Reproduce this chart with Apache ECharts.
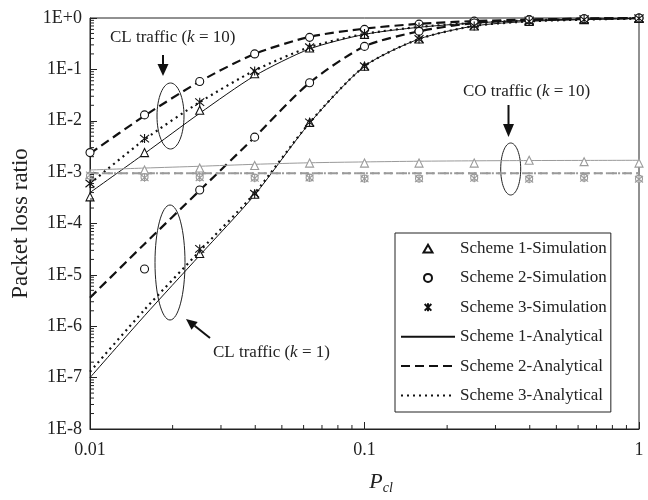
<!DOCTYPE html>
<html><head><meta charset="utf-8">
<script src="https://cdn.jsdelivr.net/npm/echarts@6/dist/echarts.min.js"></script>
<style>html,body{margin:0;padding:0;background:#fff}#c{width:648px;height:500px}</style>
</head><body><div id="c"></div>
<script>
// x values (P_cl)
const pcl = [0.01, 0.0158, 0.0251, 0.0398, 0.0631, 0.1, 0.158, 0.251, 0.398, 0.631, 1];
// CL traffic k = 10
const k10s1Sim = [3.3e-4, 2.4e-3, 1.6e-2, 8.2e-2, 0.26, 0.48, 0.66, 0.8, 0.9, 0.95, 0.98];
const k10s2Sim = [2.4e-3, 1.3e-2, 5.8e-2, 0.2, 0.42, 0.6, 0.76, 0.87, 0.93, 0.97, 1.0];
const k10s3Sim = [6e-4, 4.5e-3, 2.3e-2, 9.3e-2, 0.27, 0.5, 0.67, 0.8, 0.9, 0.95, 0.98];
const k10s1Ana = [4e-4, 2.3e-3, 1.4e-2, 7.5e-2, 0.25, 0.48, 0.66, 0.8, 0.9, 0.95, 0.98];
const k10s2Ana = [2.3e-3, 1.25e-2, 5.8e-2, 0.2, 0.43, 0.62, 0.77, 0.87, 0.93, 0.97, 1.0];
const k10s3Ana = [6e-4, 4.3e-3, 2.3e-2, 9.5e-2, 0.27, 0.49, 0.67, 0.8, 0.9, 0.95, 0.98];
// CL traffic k = 1
const k1s1Sim = [null, null, 2.6e-5, 3.7e-4, 9.3e-3, 0.115, 0.39, 0.7, 0.86, 0.93, 0.98];
const k1s2Sim = [null, 1.3e-5, 4.5e-4, 4.8e-3, 5.5e-2, 0.28, 0.55, 0.8, 0.92, 0.97, 1.0];
const k1s3Sim = [null, null, 3.2e-5, 3.8e-4, 9.3e-3, 0.115, 0.39, 0.7, 0.86, 0.93, 0.98];
const k1s1Ana = [1.0e-7, 1.6e-6, 2.4e-5, 3.6e-4, 9e-3, 0.115, 0.39, 0.7, 0.86, 0.93, 0.98];
const k1s2Ana = [3.6e-6, 4e-5, 4.4e-4, 4.8e-3, 5.5e-2, 0.28, 0.55, 0.8, 0.92, 0.97, 1.0];
const k1s3Ana = [1.3e-7, 2.1e-6, 2.9e-5, 3.9e-4, 9.2e-3, 0.115, 0.39, 0.7, 0.86, 0.93, 0.98];
// CO traffic k = 10
const cos1Sim = [9e-4, 1.1e-3, 1.2e-3, 1.35e-3, 1.5e-3, 1.5e-3, 1.5e-3, 1.5e-3, 1.7e-3, 1.6e-3, 1.5e-3];
const cos2Sim = [8.5e-4, 8e-4, 8e-4, 7.8e-4, 7.8e-4, 7.5e-4, 7.5e-4, 7.8e-4, 7.4e-4, 7.8e-4, 7.4e-4];
const cos3Sim = [8.8e-4, 7.8e-4, 7.8e-4, 7.6e-4, 7.7e-4, 7.4e-4, 7.4e-4, 7.6e-4, 7.3e-4, 7.6e-4, 7.3e-4];
const cos1Ana = [1.1e-3, 1.2e-3, 1.3e-3, 1.42e-3, 1.52e-3, 1.58e-3, 1.63e-3, 1.66e-3, 1.68e-3, 1.69e-3, 1.7e-3];
const cos2Ana = [9.5e-4, 9.5e-4, 9.5e-4, 9.5e-4, 9.5e-4, 9.5e-4, 9.5e-4, 9.5e-4, 9.5e-4, 9.5e-4, 9.5e-4];
const cos3Ana = [9.5e-4, 9.5e-4, 9.5e-4, 9.5e-4, 9.5e-4, 9.5e-4, 9.5e-4, 9.5e-4, 9.5e-4, 9.5e-4, 9.5e-4];

const legendNames = ['Scheme 1-Simulation','Scheme 2-Simulation','Scheme 3-Simulation','Scheme 1-Analytical','Scheme 2-Analytical','Scheme 3-Analytical'];
const xTickLabels = ['0.01','0.1','1'];

const SERIF = 'Liberation Serif';
const BLACK = '#111';
const GRAY = '#9a9a9a';
const STAR = 'path://M0,0L10,10M0,10L10,0M5,-1L5,11';
const TRI_ICON = 'path://M0,0L0,0M54,8L54,8M22.5,8L27,0.3L31.5,8Z';

function pairs(ys){ const out=[]; ys.forEach((y,i)=>{ if(y!==null) out.push([pcl[i], y]); }); return out; }

function sim(name, ys, symbol, color, size){
  return {name, type:'scatter', data:pairs(ys), symbol, symbolSize:size, z:4,
    itemStyle:{color: symbol===STAR ? 'rgba(0,0,0,0)' : '#fff', borderColor:color, borderWidth:1.1, opacity:1}};
}
function ana(name, ys, type, color, width){
  return {name, type:'line', data:pairs(ys), symbol:'none', showSymbol:false, smooth:0.25, z:3,
    itemStyle:{color}, lineStyle:{color, width, type}};
}

// minor tick positions (axis decoration)
const tickData = [];
for (let n=-2;n<0;n++) for (let m=2;m<=9;m++) tickData.push([m*Math.pow(10,n), 1e-8, 0]);
for (let n=-8;n<0;n++) for (let m=2;m<=9;m++) tickData.push([0.01, m*Math.pow(10,n), 1]);

const dashS = [9,5], dotS = [2,4];

const series = [
  sim(legendNames[0], k10s1Sim, 'triangle', BLACK, 8),
  sim(legendNames[1], k10s2Sim, 'circle', BLACK, 8),
  sim(legendNames[2], k10s3Sim, STAR, BLACK, 9),
  ana(legendNames[3], k10s1Ana, 'solid', BLACK, 1),
  ana(legendNames[4], k10s2Ana, dashS, BLACK, 2.2),
  ana(legendNames[5], k10s3Ana, dotS, BLACK, 2.2),
  sim(legendNames[0], k1s1Sim, 'triangle', BLACK, 8),
  sim(legendNames[1], k1s2Sim, 'circle', BLACK, 8),
  sim(legendNames[2], k1s3Sim, STAR, BLACK, 9),
  ana(legendNames[3], k1s1Ana, 'solid', BLACK, 1),
  ana(legendNames[4], k1s2Ana, dashS, BLACK, 2.2),
  ana(legendNames[5], k1s3Ana, dotS, BLACK, 2.2),
  ana(legendNames[3], cos1Ana, 'solid', GRAY, 1),
  ana(legendNames[4], cos2Ana, dashS, GRAY, 2.2),
  ana(legendNames[5], cos3Ana, dotS, GRAY, 2.2),
  sim(legendNames[0], cos1Sim, 'triangle', GRAY, 8),
  sim(legendNames[1], cos2Sim, 'circle', GRAY, 7),
  sim(legendNames[2], cos3Sim, STAR, GRAY, 8),
  {type:'custom', silent:true, z:5, data: tickData, clip:false,
   renderItem:(params, api)=>{
     const p = api.coord([api.value(0), api.value(1)]);
     const kind = api.value(2);
     const len = 4;
     const shape = kind===0 ? {x1:p[0], y1:p[1], x2:p[0], y2:p[1]-len} : {x1:p[0], y1:p[1], x2:p[0]+len, y2:p[1]};
     return {type:'line', shape, style:{stroke:'#222', lineWidth:1}};
   }}
];

const hideSym = {color:'rgba(0,0,0,0)', borderWidth:0, opacity:0};
const legendData = legendNames.map((n,i)=> i===0 ? {name:n, icon:TRI_ICON} : (i<3 ? {name:n} : {name:n, itemStyle:hideSym}));

const richT = (fs)=>({t:{fontFamily:SERIF, fontSize:fs, fill:'#222'}, i:{fontFamily:SERIF, fontStyle:'italic', fontSize:fs, fill:'#222'}});

const chart = echarts.init(document.getElementById('c'), null, {renderer:'canvas'});
chart.setOption({
  animation:false,
  backgroundColor:'#fff',
  grid:{left:90, right:9, top:18, bottom:63, show:true, borderColor:'#222', borderWidth:1},
  xAxis:{type:'log', logBase:10, min:0.01, max:1,
    axisLine:{lineStyle:{color:'#222', width:1}},
    axisTick:{inside:true, length:7, lineStyle:{color:'#222'}},
    splitLine:{show:false},
    axisLabel:{color:'#222', fontFamily:SERIF, fontSize:18, margin:12,
      formatter:(v)=>{ const e=Math.round(Math.log10(v)); return xTickLabels[e+2]; }},
    name:'{p|P}{s|cl}', nameLocation:'middle', nameGap:40,
    nameTextStyle:{padding:[0,0,0,33], rich:{p:{fontFamily:SERIF, fontStyle:'italic', fontSize:22, color:'#222'},
      s:{fontFamily:SERIF, fontStyle:'italic', fontSize:14, color:'#222', padding:[12,0,0,0]}}}
  },
  yAxis:{type:'log', logBase:10, min:1e-8, max:1,
    axisLine:{lineStyle:{color:'#222', width:1}},
    axisTick:{inside:true, length:7, lineStyle:{color:'#222'}},
    splitLine:{show:false},
    axisLabel:{color:'#222', fontFamily:SERIF, fontSize:18, margin:8,
      formatter:(v)=>{ const e=Math.round(Math.log10(v)); return e===0 ? '1E+0' : '1E'+e; }},
    name:'Packet loss ratio', nameLocation:'middle', nameGap:50,
    nameTextStyle:{fontFamily:SERIF, fontSize:23, color:'#222'}
  },
  legend:{orient:'vertical', left:395, top:233, data:legendData,
    backgroundColor:'#fff', borderColor:'#222', borderWidth:1, borderRadius:0,
    padding:[7,4,8,5], itemGap:12.4, itemWidth:54, itemHeight:8,
    textStyle:{fontFamily:SERIF, fontSize:17, color:'#222'}, selectedMode:false},
  graphic:[
    {type:'text', style:{x:110, y:38, verticalAlign:'middle', text:'{t|CL traffic (}{i|k}{t| = 10)}', rich:richT(17)}},
    {type:'line', shape:{x1:163, y1:55, x2:163, y2:66}, style:{stroke:'#111', lineWidth:2}},
    {type:'polygon', shape:{points:[[157.5,64],[168.5,64],[163,76]]}, style:{fill:'#111'}},
    {type:'ellipse', shape:{cx:170.5, cy:116, rx:13.5, ry:33}, style:{fill:'none', stroke:'#222', lineWidth:1}},

    {type:'text', style:{x:463, y:92, verticalAlign:'middle', text:'{t|CO traffic (}{i|k}{t| = 10)}', rich:richT(17)}},
    {type:'line', shape:{x1:508.5, y1:105, x2:508.5, y2:126}, style:{stroke:'#111', lineWidth:2}},
    {type:'polygon', shape:{points:[[503,124],[514,124],[508.5,137]]}, style:{fill:'#111'}},
    {type:'ellipse', shape:{cx:510.7, cy:169, rx:10, ry:26}, style:{fill:'none', stroke:'#222', lineWidth:1}},

    {type:'text', style:{x:213, y:353, verticalAlign:'middle', text:'{t|CL traffic (}{i|k}{t| = 1)}', rich:richT(17)}},
    {type:'line', shape:{x1:210, y1:338, x2:194.6, y2:325.8}, style:{stroke:'#111', lineWidth:2}},
    {type:'polygon', shape:{points:[[197.7,321.9],[191.5,329.7],[186,319]]}, style:{fill:'#111'}},
    {type:'ellipse', shape:{cx:170, cy:262.5, rx:15, ry:57.5}, style:{fill:'none', stroke:'#222', lineWidth:1}}
  ],
  series
});
</script></body></html>
